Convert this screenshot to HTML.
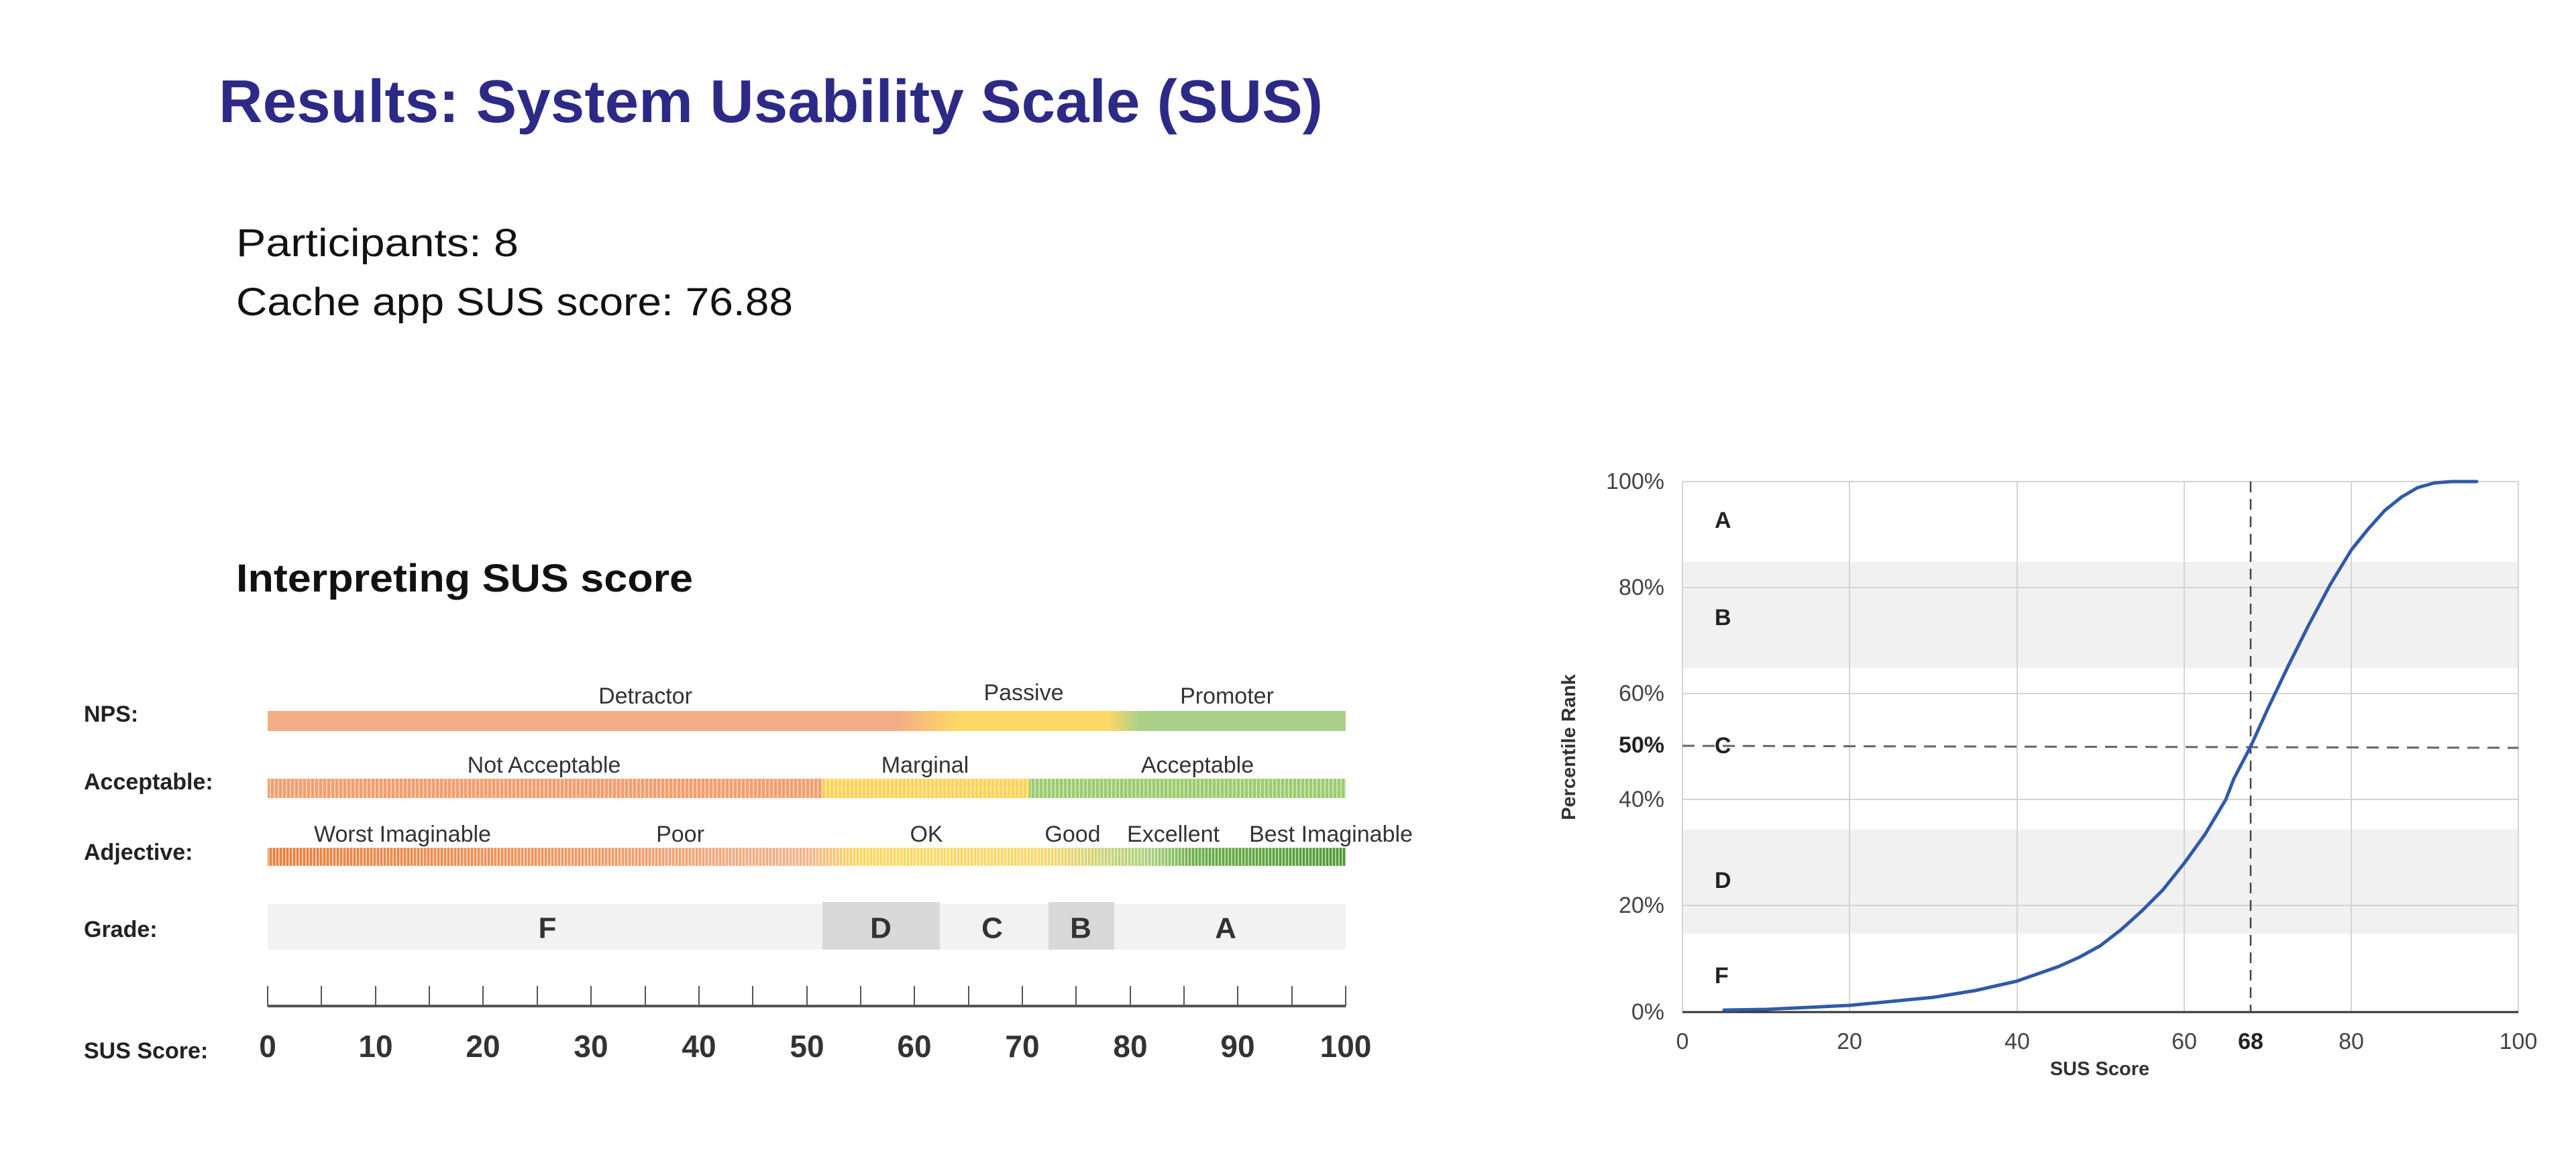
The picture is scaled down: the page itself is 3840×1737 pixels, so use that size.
<!DOCTYPE html>
<html><head><meta charset="utf-8"><style>
html,body{margin:0;padding:0;background:#fff;}
svg{display:block;font-family:"Liberation Sans",Arial,sans-serif;}
</style></head><body>
<svg width="3840" height="1737" viewBox="0 0 3840 1737" xmlns="http://www.w3.org/2000/svg">
<defs>
<linearGradient id="nps" x1="0" x2="1" y1="0" y2="0">
<stop offset="0" stop-color="#f2ae84"/><stop offset="0.585" stop-color="#f2ae84"/>
<stop offset="0.64" stop-color="#fdd866"/><stop offset="0.78" stop-color="#fdd866"/>
<stop offset="0.81" stop-color="#a9d08b"/><stop offset="1" stop-color="#a9d08b"/>
</linearGradient>
<linearGradient id="adj" x1="0" x2="1" y1="0" y2="0">
<stop offset="0" stop-color="#e8803c"/><stop offset="0.3" stop-color="#f09a66"/>
<stop offset="0.5" stop-color="#f3b38c"/><stop offset="0.55" stop-color="#fbd85e"/>
<stop offset="0.72" stop-color="#f9d86a"/><stop offset="0.82" stop-color="#a8d07e"/>
<stop offset="0.86" stop-color="#6cae48"/><stop offset="1" stop-color="#4e9a35"/>
</linearGradient>
<pattern id="hatch" width="6" height="6" patternUnits="userSpaceOnUse">
<rect width="6" height="6" fill="none"/><rect x="0" width="2" height="6" fill="#fff" fill-opacity="0.45"/>
</pattern>
<pattern id="stripe" width="5" height="10" patternUnits="userSpaceOnUse">
<rect x="0" width="2" height="10" fill="#fff" fill-opacity="0.55"/>
</pattern>
</defs>

<text x="326" y="182" font-size="90" font-weight="bold" fill="#2d2a87" textLength="1646" lengthAdjust="spacingAndGlyphs">Results: System Usability Scale (SUS)</text>
<text x="352" y="382" font-size="58" fill="#111" textLength="421" lengthAdjust="spacingAndGlyphs">Participants: 8</text>
<text x="352" y="470" font-size="58" fill="#111" textLength="830" lengthAdjust="spacingAndGlyphs">Cache app SUS score: 76.88</text>
<text x="352" y="882" font-size="58" font-weight="bold" fill="#111" textLength="681" lengthAdjust="spacingAndGlyphs">Interpreting SUS score</text>

<g font-size="34" font-weight="bold" fill="#222" dominant-baseline="central">
<text x="125" y="1065">NPS:</text>
<text x="125" y="1166">Acceptable:</text>
<text x="125" y="1271">Adjective:</text>
<text x="125" y="1386">Grade:</text>
<text x="125" y="1567">SUS Score:</text>
</g>

<rect x="399" y="1060" width="1607" height="30" fill="url(#nps)"/>
<rect x="399" y="1161" width="827" height="29" fill="#f0a070"/>
<rect x="1226" y="1161" width="308" height="29" fill="#fbd45a"/>
<rect x="1534" y="1161" width="472" height="29" fill="#9ccc70"/>
<rect x="399" y="1161" width="1607" height="29" fill="url(#hatch)"/>
<rect x="399" y="1264" width="1607" height="27" fill="url(#adj)"/>
<rect x="399" y="1264" width="1607" height="27" fill="url(#stripe)"/>

<g font-size="34" fill="#333" text-anchor="middle" dominant-baseline="central">
<text x="962" y="1038">Detractor</text><text x="1526" y="1033">Passive</text><text x="1829" y="1038">Promoter</text>
<text x="811" y="1141">Not Acceptable</text><text x="1379" y="1141">Marginal</text><text x="1785" y="1141">Acceptable</text>
<text x="600" y="1244">Worst Imaginable</text><text x="1014" y="1244">Poor</text><text x="1381" y="1244">OK</text>
<text x="1599" y="1244">Good</text><text x="1749" y="1244">Excellent</text><text x="1984" y="1244">Best Imaginable</text>
</g>

<rect x="399" y="1348" width="1607" height="68" fill="#f2f2f2"/>
<rect x="1226" y="1345" width="175" height="71" fill="#d9d9d9"/>
<rect x="1563" y="1345" width="98" height="71" fill="#d9d9d9"/>
<g font-size="44" font-weight="bold" fill="#333" text-anchor="middle" dominant-baseline="central">
<text x="816" y="1384">F</text><text x="1313" y="1384">D</text><text x="1479" y="1384">C</text><text x="1611" y="1384">B</text><text x="1827" y="1384">A</text>
</g>

<g stroke="#555" stroke-width="2">
<line x1="399" y1="1500" x2="2006" y2="1500" stroke-width="4"/>
<line x1="399" y1="1470" x2="399" y2="1500"/><line x1="479" y1="1470" x2="479" y2="1500"/>
<line x1="560" y1="1470" x2="560" y2="1500"/><line x1="640" y1="1470" x2="640" y2="1500"/>
<line x1="720" y1="1470" x2="720" y2="1500"/><line x1="801" y1="1470" x2="801" y2="1500"/>
<line x1="881" y1="1470" x2="881" y2="1500"/><line x1="962" y1="1470" x2="962" y2="1500"/>
<line x1="1042" y1="1470" x2="1042" y2="1500"/><line x1="1122" y1="1470" x2="1122" y2="1500"/>
<line x1="1203" y1="1470" x2="1203" y2="1500"/><line x1="1283" y1="1470" x2="1283" y2="1500"/>
<line x1="1363" y1="1470" x2="1363" y2="1500"/><line x1="1444" y1="1470" x2="1444" y2="1500"/>
<line x1="1524" y1="1470" x2="1524" y2="1500"/><line x1="1604" y1="1470" x2="1604" y2="1500"/>
<line x1="1685" y1="1470" x2="1685" y2="1500"/><line x1="1765" y1="1470" x2="1765" y2="1500"/>
<line x1="1845" y1="1470" x2="1845" y2="1500"/><line x1="1926" y1="1470" x2="1926" y2="1500"/>
<line x1="2006" y1="1470" x2="2006" y2="1500"/>
</g>
<g font-size="46" font-weight="bold" fill="#333" text-anchor="middle" dominant-baseline="central">
<text x="399" y="1560">0</text><text x="560" y="1560">10</text><text x="720" y="1560">20</text><text x="881" y="1560">30</text>
<text x="1042" y="1560">40</text><text x="1203" y="1560">50</text><text x="1363" y="1560">60</text><text x="1524" y="1560">70</text>
<text x="1685" y="1560">80</text><text x="1845" y="1560">90</text><text x="2006" y="1560">100</text>
</g>

<!-- right chart -->
<rect x="2508" y="838" width="1246" height="158" fill="#f1f1f1"/>
<rect x="2508" y="1237" width="1246" height="155" fill="#f1f1f1"/>
<g stroke="#d4d4d4" stroke-width="2">
<line x1="2757" y1="718" x2="2757" y2="1509"/><line x1="3007" y1="718" x2="3007" y2="1509"/>
<line x1="3256" y1="718" x2="3256" y2="1509"/><line x1="3505" y1="718" x2="3505" y2="1509"/>
<line x1="3754" y1="718" x2="3754" y2="1509"/>
<line x1="2508" y1="718" x2="3754" y2="718"/><line x1="2508" y1="876" x2="3754" y2="876"/>
<line x1="2508" y1="1034" x2="3754" y2="1034"/><line x1="2508" y1="1192" x2="3754" y2="1192"/>
<line x1="2508" y1="1350" x2="3754" y2="1350"/>
<line x1="2508" y1="718" x2="2508" y2="1509"/>
</g>
<line x1="2508" y1="1509" x2="3754" y2="1509" stroke="#333" stroke-width="3"/>
<line x1="2508" y1="1112" x2="3754" y2="1115" stroke="#666" stroke-width="3" stroke-dasharray="18,12"/>
<line x1="3355" y1="718" x2="3355" y2="1509" stroke="#444" stroke-width="2.5" stroke-dasharray="16,10"/>
<polyline fill="none" stroke="#2f5aa8" stroke-width="5" stroke-linejoin="round" stroke-linecap="round"
points="2570,1506 2633,1505 2757,1499 2820,1493 2882,1487 2944,1477 3006,1463 3069,1441 3100,1427 3131,1410 3162,1386 3193,1358 3224,1327 3256,1287 3287,1244 3318,1192 3330,1161 3355,1113 3380,1058 3411,993 3442,931 3474,871 3505,820 3530,789 3555,761 3580,741 3604,727 3629,720 3655,718 3692,718"/>
<g font-size="34" fill="#444" text-anchor="end" dominant-baseline="central">
<text x="2481" y="718">100%</text><text x="2481" y="876">80%</text><text x="2481" y="1034">60%</text>
<text x="2481" y="1111" font-weight="bold" fill="#222">50%</text>
<text x="2481" y="1192">40%</text><text x="2481" y="1350">20%</text><text x="2481" y="1509">0%</text>
</g>
<g font-size="34" fill="#444" text-anchor="middle" dominant-baseline="central">
<text x="2508" y="1553">0</text><text x="2757" y="1553">20</text><text x="3007" y="1553">40</text>
<text x="3256" y="1553">60</text><text x="3355" y="1553" font-weight="bold" fill="#222">68</text>
<text x="3505" y="1553">80</text><text x="3754" y="1553">100</text>
<text x="3130" y="1594" font-size="29" font-weight="bold" fill="#333">SUS Score</text>
<text transform="translate(2339,1114) rotate(-90)" font-size="29" font-weight="bold" fill="#333">Percentile Rank</text>
</g>
<g font-size="34" font-weight="bold" fill="#222" dominant-baseline="central">
<text x="2556" y="776">A</text><text x="2556" y="921">B</text><text x="2556" y="1112">C</text>
<text x="2556" y="1313">D</text><text x="2556" y="1455">F</text>
</g>
</svg>
</body></html>
